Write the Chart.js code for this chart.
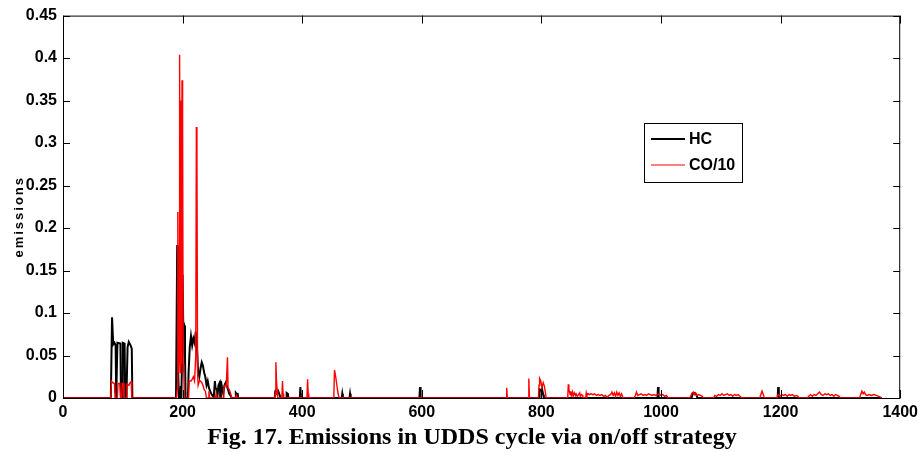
<!DOCTYPE html>
<html>
<head>
<meta charset="utf-8">
<script src="https://cdn.jsdelivr.net/npm/chart.js@4.4.0/dist/chart.umd.min.js"></script>
<style>
  html, body { margin: 0; padding: 0; background: #fff; }
  #wrap { position: relative; width: 923px; height: 452px; }
  canvas { display: block; }
  #caption {
    position: absolute; left: 0; top: 424px; width: 944px;
    text-align: center; font: bold 24px "Liberation Serif", "Times New Roman", serif;
    line-height: 24px; color: #000; white-space: nowrap;
  }
</style>
</head>
<body>
<div id="wrap">
  <canvas id="emissions-chart" width="923" height="452"></canvas>
  <div id="caption">Fig. 17. Emissions in UDDS cycle via on/off strategy</div>
</div>
<script>
// HC (black)
const hcTime = [0, 80, 82, 84, 86, 88, 89, 90, 91, 96, 97, 99, 100, 103, 104, 106, 108, 110, 113, 115, 116,
  189, 191, 192, 193, 194, 196, 197, 198, 199, 200, 201, 203, 204, 205, 209, 210, 212, 214, 216, 218, 220, 222,
  224, 226, 228, 230, 232, 234, 236, 238, 240, 242, 244, 246, 248, 250, 252, 254, 255, 257, 258, 260, 262, 263,
  264, 266, 268, 270, 272, 274, 276, 278, 280, 282, 288, 289, 291, 292, 293,
  354, 355, 357, 358, 360, 362, 364, 373, 374, 376, 377, 396, 397, 398, 466, 467, 468, 479, 480, 481,
  596, 597, 598, 796, 797, 799, 801, 803, 804, 994, 995, 996, 1051, 1053, 1056, 1059, 1061, 1195, 1196, 1197, 1369];
const hcValue = [0, 0, 0.095, 0.063, 0.065, 0.062, 0, 0, 0.065, 0.064, 0, 0, 0.065, 0.064, 0, 0, 0.06, 0.066, 0.062, 0.058, 0,
  0, 0.18, 0.05, 0.02, 0, 0, 0.014, 0, 0.05, 0.145, 0.09, 0.085, 0.05, 0, 0, 0.03, 0.06, 0.073, 0.062, 0.07, 0.065, 0.078,
  0.06, 0.03, 0.025, 0.035, 0.042, 0.038, 0.03, 0.025, 0.015, 0.02, 0.012, 0.008, 0.005, 0.003, 0, 0.02, 0.012, 0.01, 0, 0.015, 0.018, 0,
  0.02, 0.012, 0.005, 0.015, 0.018, 0.014, 0.01, 0.005, 0.003, 0, 0, 0.006, 0.004, 0.006, 0,
  0, 0.008, 0.01, 0.006, 0.008, 0.004, 0, 0, 0.006, 0.005, 0, 0, 0.013, 0, 0, 0.005, 0, 0, 0.005, 0,
  0, 0.013, 0, 0, 0.01, 0.009, 0.011, 0.004, 0, 0, 0.013, 0, 0, 0.005, 0.006, 0.004, 0, 0, 0.013, 0, 0];

// CO/10 (red)
const coTime = [0, 80, 81, 83, 86, 87, 91, 92, 95, 96, 98, 99, 101, 102, 106, 107, 110, 112, 114, 115,
  190, 191, 192, 193, 194, 195, 196, 197, 198, 199, 200, 201, 202, 203, 210, 211, 214, 216, 218, 220, 222, 223, 224,
  225, 226, 228, 230, 232, 234, 236, 238, 240, 243, 244, 245, 255, 256, 257, 268, 269, 271, 273, 275, 276, 278, 280, 282,
  288, 290, 292, 354, 355, 356, 357, 358, 359, 366, 367, 368, 369, 408, 409, 410, 411, 452, 453, 454, 456, 458, 460, 462,
  741, 742, 743, 778, 779, 780, 795, 796, 797, 799, 801, 803, 805, 807, 808,
  844, 845, 846, 848, 849, 850, 852, 853, 855, 857, 858, 860, 862, 864, 865, 867, 869, 870, 874, 875, 876, 878, 880, 883,
  886, 889, 892, 895, 898, 901, 904, 907, 910, 913, 916, 918, 920, 922, 924, 926, 928, 930, 932, 934, 936, 937,
  955, 957, 959, 961, 964, 967, 970, 973, 976, 979, 982, 985, 988, 991, 994, 997, 1000, 1003, 1006, 1009, 1012,
  1048, 1050, 1052, 1054, 1056, 1058, 1060, 1063, 1066, 1069, 1071,
  1088, 1090, 1093, 1096, 1099, 1102, 1105, 1108, 1111, 1114, 1117, 1120, 1123, 1126, 1129, 1132, 1135,
  1165, 1167, 1169, 1171, 1173,
  1194, 1196, 1199, 1202, 1205, 1208, 1211, 1214, 1217, 1220, 1223, 1226, 1229, 1231,
  1245, 1247, 1250, 1253, 1256, 1259, 1262, 1265, 1268, 1271, 1274, 1277, 1280, 1283, 1286, 1289, 1292, 1295, 1298, 1300,
  1332, 1334, 1336, 1338, 1340, 1342, 1345, 1348, 1352, 1356, 1360, 1364, 1367, 1369];
const coValue = [0, 0, 0.02, 0.018, 0.017, 0, 0, 0.017, 0.017, 0, 0, 0.017, 0.017, 0, 0, 0.016, 0.015, 0.018, 0.019, 0,
  0, 0.01, 0.219, 0.03, 0.05, 0.404, 0.03, 0.35, 0.04, 0.374, 0.33, 0.04, 0.03, 0, 0, 0.02, 0.02, 0.022, 0.025, 0.02, 0.05, 0.319, 0.28,
  0.03, 0.015, 0.02, 0.02, 0.018, 0.015, 0.01, 0.008, 0, 0, 0.008, 0, 0, 0.005, 0, 0, 0.012, 0.015, 0.014, 0.048, 0.012, 0.01, 0.006, 0,
  0, 0.003, 0, 0, 0.005, 0.042, 0.02, 0.01, 0, 0, 0.02, 0.005, 0, 0, 0.022, 0.005, 0, 0, 0.005, 0.033, 0.025, 0.015, 0.005, 0,
  0, 0.012, 0, 0, 0.023, 0, 0, 0.015, 0.023, 0.02, 0.012, 0.018, 0.014, 0.005, 0,
  0, 0.016, 0.01, 0.004, 0.008, 0.003, 0.007, 0.002, 0.006, 0.003, 0.005, 0.002, 0.004, 0.006, 0.002, 0.004, 0.003, 0, 0, 0.006, 0.003, 0.005, 0.004, 0.005,
  0.004, 0.005, 0.003, 0.004, 0.003, 0.004, 0.002, 0.003, 0.001, 0.003, 0.004, 0.007, 0.003, 0.006, 0.002, 0.007, 0.003, 0.006, 0.002, 0.005, 0.001, 0,
  0, 0.003, 0.007, 0.003, 0.004, 0.005, 0.003, 0.004, 0.003, 0.005, 0.004, 0.003, 0.004, 0.003, 0.004, 0.005, 0.003, 0.004, 0.002, 0.003, 0,
  0, 0.003, 0.006, 0.007, 0.004, 0.006, 0.003, 0.004, 0.003, 0.002, 0,
  0, 0.003, 0.002, 0.004, 0.003, 0.005, 0.003, 0.004, 0.005, 0.003, 0.004, 0.002, 0.004, 0.003, 0.004, 0.002, 0,
  0, 0.004, 0.008, 0.004, 0,
  0, 0.004, 0.002, 0.004, 0.003, 0.004, 0.002, 0.004, 0.003, 0.004, 0.002, 0.003, 0.002, 0,
  0, 0.002, 0.004, 0.002, 0.004, 0.003, 0.005, 0.007, 0.004, 0.003, 0.005, 0.004, 0.005, 0.003, 0.004, 0.002, 0.004, 0.003, 0.002, 0,
  0, 0.004, 0.008, 0.005, 0.007, 0.004, 0.003, 0.004, 0.003, 0.004, 0.003, 0.002, 0.001, 0];

const legendLabels = ["HC", "CO/10"];
const yTitle = "emissions";

const toPoints = (t, v) => t.map((x, i) => ({ x: x, y: v[i] }));

const tickFont = 'bold 16px "Liberation Sans", Arial, sans-serif';

// box, inward ticks, y title and legend in matlab style
const matlabFrame = {
    id: 'matlabFrame',
    afterDraw(chart) {
        const ctx = chart.ctx;
        const a = chart.chartArea;
        const xs = chart.scales.x;
        const ys = chart.scales.y;
        ctx.save();
        ctx.strokeStyle = '#000';
        ctx.lineWidth = 1;
        ctx.strokeRect(a.left + 0.5, a.top + 0.5, a.right - a.left - 1, a.bottom - a.top);

        ctx.beginPath();
        xs.ticks.forEach(t => {
            const px = Math.round(xs.getPixelForValue(t.value)) + 0.5;
            ctx.moveTo(px, a.bottom); ctx.lineTo(px, a.bottom - 8);
            ctx.moveTo(px, a.top); ctx.lineTo(px, a.top + 8);
        });
        ys.ticks.forEach(t => {
            const py = Math.round(ys.getPixelForValue(t.value)) + 0.5;
            ctx.moveTo(a.left, py); ctx.lineTo(a.left + 7, py);
            ctx.moveTo(a.right, py); ctx.lineTo(a.right - 7, py);
        });
        ctx.stroke();

        // y title
        ctx.save();
        ctx.translate(23, (a.top + a.bottom) / 2 + 10);
        ctx.rotate(-Math.PI / 2);
        ctx.font = 'bold 13px "Liberation Sans", Arial, sans-serif';
        ctx.letterSpacing = '2px';
        ctx.fillStyle = '#000';
        ctx.textAlign = 'center';
        ctx.textBaseline = 'alphabetic';
        ctx.fillText(yTitle, 0, 0);
        ctx.restore();

        // legend
        const lx = 644, ly = 123, lw = 98, lh = 59;
        ctx.fillStyle = '#fff';
        ctx.fillRect(lx, ly, lw, lh);
        ctx.strokeStyle = '#000';
        ctx.lineWidth = 1;
        ctx.strokeRect(lx + 0.5, ly + 0.5, lw, lh);
        const colors = ['#000000', '#ff0000'];
        const widths = [2, 1];
        const rows = [139, 165];
        ctx.font = tickFont;
        ctx.textBaseline = 'middle';
        ctx.textAlign = 'left';
        rows.forEach((ry, i) => {
            ctx.beginPath();
            ctx.strokeStyle = colors[i];
            ctx.lineWidth = widths[i];
            ctx.moveTo(651, ry);
            ctx.lineTo(685, ry);
            ctx.stroke();
            ctx.fillStyle = '#000';
            ctx.fillText(legendLabels[i], 689, ry + 1);
        });
        ctx.restore();
    }
};

const chartEl = document.getElementById("emissions-chart");

new Chart(chartEl, {
    type: 'line',
    data: {
        datasets: [{
            label: legendLabels[1],
            data: toPoints(coTime, coValue),
            borderColor: '#ff0000',
            borderWidth: 1.4,
            pointRadius: 0,
            tension: 0,
            fill: false
        }, {
            label: legendLabels[0],
            data: toPoints(hcTime, hcValue),
            borderColor: '#000000',
            borderWidth: 2,
            pointRadius: 0,
            tension: 0,
            fill: false
        }]
    },
    options: {
        responsive: false,
        animation: false,
        events: [],
        layout: {
            padding: { top: 15, right: 18, left: 0, bottom: 0 }
        },
        scales: {
            x: {
                type: 'linear',
                min: 0,
                max: 1400,
                afterFit: s => { s.height = 54; },
                grid: { display: false, drawTicks: false, tickLength: 0 },
                border: { display: false },
                ticks: {
                    stepSize: 200,
                    padding: 5,
                    maxRotation: 0,
                    color: '#000',
                    font: { family: '"Liberation Sans", Arial, sans-serif', size: 16, weight: 'bold' },
                    callback: v => String(v)
                }
            },
            y: {
                min: 0,
                max: 0.45,
                afterFit: s => { s.width = 63; },
                grid: { display: false, drawTicks: false, tickLength: 0 },
                border: { display: false },
                ticks: {
                    stepSize: 0.05,
                    padding: 6,
                    color: '#000',
                    font: { family: '"Liberation Sans", Arial, sans-serif', size: 16, weight: 'bold' },
                    callback: v => String(+v.toFixed(2))
                }
            }
        },
        plugins: {
            legend: { display: false },
            tooltip: { enabled: false }
        }
    },
    plugins: [matlabFrame]
});
</script>
</body>
</html>
